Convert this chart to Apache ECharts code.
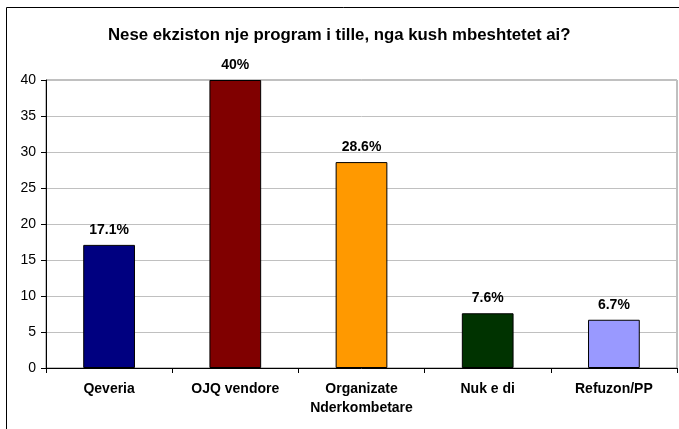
<!DOCTYPE html>
<html lang="en">
<head>
    <meta charset="UTF-8">
    <title>Nese ekziston nje program i tille</title>
    <script src="https://cdn.jsdelivr.net/npm/echarts@6.0.0/dist/echarts.min.js"></script>
</head>
<body style="margin: 0; background: #fff">
    <div id="container" style="width:679px;height:429px"></div>
    <script type="text/javascript">
        var categories = ['Qeveria', 'OJQ vendore', 'Organizate\nNderkombetare', 'Nuk e di', 'Refuzon/PP'];
        var values = [17.1, 40, 28.6, 7.6, 6.7];
        var barColors = ['#000080', '#800000', '#FF9900', '#003300', '#9999FF'];
        var yTicks = [0, 5, 10, 15, 20, 25, 30, 35, 40];

        var font = 'Arial, "Liberation Sans", sans-serif';
        var chart = echarts.init(document.getElementById('container'));

        var option = {
            animation: false,
            title: {
                text: 'Nese ekziston nje program i tille, nga kush mbeshtetet ai?',
                left: 103,
                top: 22,
                textStyle: { fontFamily: font, fontSize: 16.8, fontWeight: 'bold', color: '#000' }
            },
            // outer chart frame
            graphic: [{
                type: 'rect',
                shape: { x: 6.5, y: 7.5, width: 700, height: 450 },
                style: { fill: 'none', stroke: '#000', lineWidth: 1 },
                silent: true
            }],
            grid: {
                left: 46, right: 2, top: 80, bottom: 61,
                show: true, borderColor: '#808080', borderWidth: 1
            },
            xAxis: {
                type: 'category',
                data: categories,
                axisLine: { lineStyle: { color: '#000', width: 1 } },
                axisTick: { show: true, length: 5, lineStyle: { color: '#000' } },
                axisLabel: {
                    fontFamily: font, fontSize: 14, fontWeight: 'bold', color: '#000',
                    margin: 12, lineHeight: 19, interval: 0
                }
            },
            yAxis: {
                type: 'value',
                min: 0, max: yTicks[yTicks.length - 1], interval: yTicks[1] - yTicks[0],
                axisLine: { show: true, lineStyle: { color: '#000', width: 1 } },
                axisTick: { show: true, length: 5, lineStyle: { color: '#000' } },
                axisLabel: { fontFamily: font, fontSize: 14, color: '#000', margin: 10 },
                splitLine: { lineStyle: { color: '#c0c0c0', width: 1 } }
            },
            series: [{
                type: 'bar',
                barWidth: '41%',
                data: values.map(function (v, i) {
                    return { value: v, itemStyle: { color: barColors[i] } };
                }),
                itemStyle: { borderColor: '#000', borderWidth: 1 },
                label: {
                    show: true,
                    position: 'top',
                    distance: 8,
                    formatter: function (p) { return p.value + '%'; },
                    fontFamily: font, fontSize: 14, fontWeight: 'bold', color: '#000'
                }
            }]
        };
        chart.setOption(option);
    </script>
</body>
</html>
